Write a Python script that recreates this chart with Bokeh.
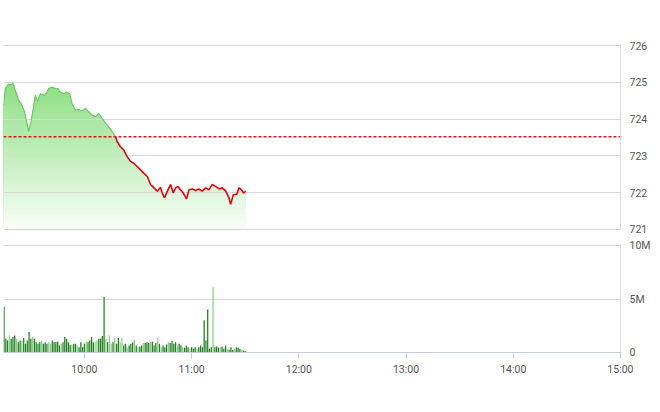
import numpy as np
from bokeh.plotting import figure
from bokeh.layouts import column
from bokeh.models import Span, FixedTicker, Range1d
from bokeh.embed import file_html
from bokeh.resources import INLINE

# ---------------- data ----------------
# price: minutes after 09:00 and index value
price_min = [14.8, 15.7, 17.6, 18.5, 20.0, 21.3, 23.2, 25.0, 26.4, 27.9,
             28.8, 30.1, 31.2, 32.5, 33.8, 35.3, 37.2, 38.7, 40.0, 41.9,
             43.7, 45.0, 46.5, 48.4, 49.9, 51.7, 53.1, 55.0, 56.8, 58.7,
             60.6, 62.4, 64.3, 66.2, 68.0, 69.9, 72.7, 75.5, 77.4, 78.3,
             80.2, 82.0, 83.9, 85.8, 87.6, 89.5, 91.4, 93.2, 95.2, 97.0,
             98.9, 100.8, 102.6, 103.5, 104.9, 106.4, 108.2, 109.7, 111.0, 112.3,
             113.8, 115.3, 117.2, 118.5, 120.4, 122.2, 124.1, 126.0, 127.8, 129.7,
             131.5, 133.4, 135.3, 137.2, 139.1, 140.9, 141.8, 143.4, 145.2, 146.5,
             147.9, 149.0, 150.3]
price_val = [724.38, 724.83, 724.96, 724.92, 724.98, 724.78, 724.51, 724.38, 724.20, 723.88,
             723.66, 723.93, 724.24, 724.65, 724.47, 724.69, 724.65, 724.71, 724.83, 724.87,
             724.83, 724.83, 724.74, 724.69, 724.74, 724.69, 724.42, 724.24, 724.26, 724.22,
             724.29, 724.20, 724.11, 724.06, 724.15, 724.02, 723.84, 723.66, 723.52, 723.39,
             723.25, 723.16, 722.98, 722.85, 722.80, 722.71, 722.62, 722.53, 722.44, 722.22,
             722.13, 722.04, 722.15, 721.99, 721.86, 722.04, 722.22, 721.99, 722.13, 722.17,
             722.08, 721.99, 721.83, 722.08, 722.10, 722.06, 722.10, 722.04, 722.13, 722.08,
             722.22, 722.17, 722.10, 722.13, 722.04, 721.86, 721.68, 721.95, 721.95, 722.13,
             722.08, 721.99, 722.04]
ref_price = 723.52

price_ticks = [721, 722, 723, 724, 725, 726]
vol_ticks = [0, 5, 10]
vol_tick_labels = ["0", "5M", "10M"]
time_labels = ["10:00", "11:00", "12:00", "13:00", "14:00", "15:00"]

# volume per minute from 09:15, in millions
vol_start = "09:15"
volume_m = [4.28,
            1.29, 1.13, 1.60, 1.29, 1.45, 1.60, 1.29, 0.97, 1.13, 1.13,
            1.35, 0.82, 1.13, 1.92, 1.29, 1.45, 1.29, 0.97, 0.82, 0.97,
            1.13, 0.82, 0.97, 0.82, 0.97, 0.82, 1.13, 0.97, 0.97, 1.04,
            0.66, 0.82, 0.97, 1.45, 1.29, 0.97, 0.72, 0.72, 0.82, 0.82,
            0.66, 0.50, 0.97, 0.50, 0.82, 1.04, 0.97, 1.13, 1.45, 0.97,
            0.97, 1.13, 1.29, 1.29, 1.54,
            5.22,
            1.29, 0.97, 1.60, 0.82, 0.97, 1.35, 0.82, 1.35, 0.97, 1.35,
            0.66, 0.82, 0.50, 0.66, 0.82, 0.97, 1.19, 0.66, 0.50, 0.57,
            0.66, 0.88, 0.88, 0.97, 0.88, 0.97, 1.04, 0.66, 0.88, 1.38,
            0.82, 0.50, 0.66, 0.50, 0.75, 0.97, 0.88, 1.07, 0.82, 0.97,
            0.66, 0.82, 0.66, 0.50, 0.44, 0.66, 0.50, 0.35, 0.50, 0.35,
            0.50, 0.35, 0.50, 0.66, 0.50,
            3.02, 1.13, 4.03, 0.35, 0.50, 6.10,
            0.50, 0.57, 0.44, 0.50, 0.57, 0.35, 0.66, 0.35, 0.25, 0.50,
            0.25, 0.35, 0.50, 0.44, 0.35, 0.25, 0.19, 0.13]
vol_dir = ("dddldddldd" "ldddddlddd" "dldddllddd" "ddldddddld" "dlddddlddd"
           "dllddddldl" "ldlddllddl" "dddldlddld" "ddldddldld" "ddlddddldd"
           "ldddldddld" "dddddddldd" "dldddldddl" "dddldd")

# ---------------- helpers ----------------
def to_min(s):
    h, m = s.split(":")
    return int(h) * 60 + int(m)

px = 540 + np.array(price_min)
py = np.array(price_val)
tick_x = [to_min(t) for t in time_labels]
vx = to_min(vol_start) + np.arange(len(volume_m))
vy = np.array(volume_m)
vcol = ["#1f7d1f" if c == "d" else "#86d086" for c in vol_dir[:len(volume_m)]]

X0, X1 = 554.7, 900.6
FONT = "Roboto"
FSIZE = "10.5px"
LBL = "#555555"
GRID = "#d9d9d9"


def style_yaxis(ax):
    ax.axis_line_color = None
    ax.major_tick_line_color = None
    ax.minor_tick_line_color = None
    ax.major_tick_out = 0
    ax.major_tick_in = 0
    ax.major_label_standoff = 8
    ax.major_label_text_font = FONT
    ax.major_label_text_font_size = FSIZE
    ax.major_label_text_color = LBL


# ---------------- price chart ----------------
p1 = figure(frame_width=618, frame_height=186, x_range=Range1d(X0, X1),
            y_range=Range1d(720.97, 726.03), output_backend="svg", toolbar_location=None,
            y_axis_location="right", min_border_left=3, min_border_top=44,
            min_border_bottom=6, min_border_right=38)
p1.outline_line_color = None
p1.xaxis.visible = False
p1.xgrid.visible = False
p1.yaxis.ticker = FixedTicker(ticks=price_ticks)
p1.yaxis.major_label_overrides = {t: str(t) for t in price_ticks}
style_yaxis(p1.yaxis[0])
p1.ygrid.ticker = FixedTicker(ticks=price_ticks)
p1.ygrid.grid_line_color = GRID
p1.ygrid.grid_line_width = 1

# gradient area: overlapping layers painted from the top colour down
top_c = np.array([142, 223, 132])
bot_c = np.array([250, 254, 249])
levels = np.linspace(725.1, 721, 60)
for hi in levels:
    t = (hi - 721) / (725.0 - 721)
    c = bot_c + (top_c - bot_c) * min(t, 1)
    col = "#%02x%02x%02x" % tuple(int(round(v)) for v in c)
    r = p1.varea(x=px, y1=np.clip(py, 721, hi), y2=721, fill_color=col)
    r.level = "image"

k = int(np.argmax(py <= ref_price))
p1.line(px[:k + 1], py[:k + 1], line_color="#6cc966", line_width=1.2)
p1.line(px[k:], py[k:], line_color="#e3000f", line_width=1.6)

p1.add_layout(Span(location=ref_price, dimension="width", line_color="#e0101a",
                   line_width=1.5, line_dash="3 2"))
p1.add_layout(Span(location=900, dimension="height", line_color="#d6dce4", line_width=1))

# ---------------- volume chart ----------------
p2 = figure(frame_width=618, frame_height=108, x_range=p1.x_range,
            y_range=Range1d(0, 10.1), output_backend="svg", toolbar_location=None,
            y_axis_location="right", min_border_left=3, min_border_top=8,
            min_border_bottom=10, min_border_right=38)
p2.outline_line_color = None
p2.xgrid.visible = False
p2.yaxis.ticker = FixedTicker(ticks=vol_ticks)
p2.yaxis.major_label_overrides = dict(zip(vol_ticks, vol_tick_labels))
style_yaxis(p2.yaxis[0])
p2.ygrid.ticker = FixedTicker(ticks=vol_ticks)
p2.ygrid.grid_line_color = GRID

p2.xaxis.ticker = FixedTicker(ticks=tick_x)
p2.xaxis.major_label_overrides = dict(zip(tick_x, time_labels))
p2.xaxis.axis_line_color = "#c6d0dc"
p2.xaxis.major_tick_line_color = "#c6d0dc"
p2.xaxis.minor_tick_line_color = None
p2.xaxis.major_tick_in = 0
p2.xaxis.major_tick_out = 6
p2.xaxis.major_label_standoff = 4
p2.xaxis.major_label_text_font = FONT
p2.xaxis.major_label_text_font_size = FSIZE
p2.xaxis.major_label_text_color = LBL

p2.vbar(x=vx, top=vy, width=0.7, fill_color=vcol, line_color=None)
p2.add_layout(Span(location=900, dimension="height", line_color="#d6dce4", line_width=1))

layout = column(p1, p2, spacing=0)
open("out.html", "w").write(file_html(layout, INLINE))
